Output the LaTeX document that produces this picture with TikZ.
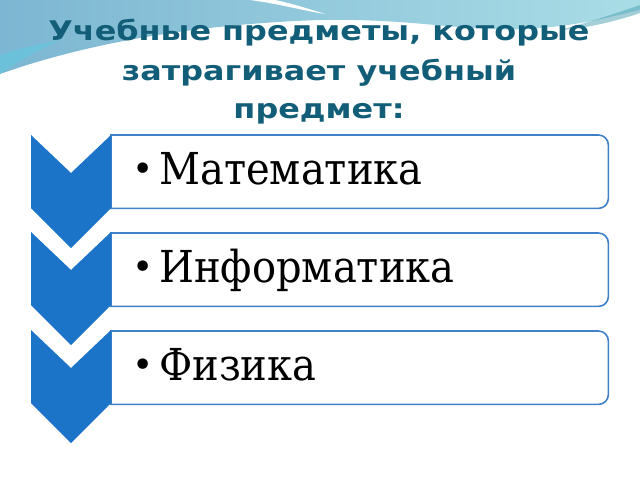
\documentclass[tikz,border=0pt]{standalone}
\usepackage{fontspec}
\newfontfamily\titlefont[FakeStretch=1.18]{DejaVu Sans}
\newfontfamily\itemfont[FakeStretch=0.91]{DejaVu Serif}
\newfontfamily\bulletfont{DejaVu Serif}
\definecolor{titlecol}{HTML}{125E78}
\definecolor{chevcol}{HTML}{1C74C9}
\definecolor{boxcol}{HTML}{3F80C8}
\definecolor{skyA}{HTML}{7DB6D2}
\definecolor{skyB}{HTML}{A9DDE6}
\definecolor{skyC}{HTML}{5FC9DF}
\begin{document}
\begin{tikzpicture}[x=1pt,y=-1pt,
  chev/.style={fill=chevcol,draw=none},
  boxline/.style={draw=boxcol,line width=1.6pt,fill=white},
  boxnode/.style={anchor=north west,minimum width=497,minimum height=73,inner sep=0pt},
  itemtext/.style={anchor=base west,inner sep=0pt,font=\itemfont\fontsize{44}{44}\selectfont},
  bullet/.style={anchor=base,inner sep=0pt,font=\bulletfont\fontsize{36}{36}\selectfont},
  titletext/.style={anchor=base,inner sep=0pt,text=titlecol,font=\titlefont\bfseries\fontsize{27}{27}\selectfont}]
% background
\fill[white] (0,0) rectangle (640,480);
\useasboundingbox (0,0) rectangle (640,480);
\shade[left color=skyA,right color=skyB] (0,0) -- (0,74) .. controls (90,42) and (200,24) .. (320,20)
  .. controls (420,18) and (470,34) .. (540,28) .. controls (590,24) and (620,14) .. (640,10) -- (640,0) -- cycle;
\fill[skyC,opacity=0.6] (0,55) .. controls (20,48) and (40,44) .. (60,40) .. controls (40,50) and (20,60) .. (0,74) -- cycle;
\fill[white] (250,0) .. controls (280,4) and (300,10) .. (325,14) .. controls (300,6) and (285,2) .. (275,0) -- cycle;
\fill[skyC!80!black,opacity=0.5] (560,30) .. controls (590,22) and (620,12) .. (640,5) -- (640,13) .. controls (620,20) and (590,28) .. (560,30) -- cycle;
% title
\node[titletext] (t1) at (319,40) {Учебные предметы, которые};
\node[titletext] (t2) at (319,80) {затрагивает учебный};
\node[titletext] (t3) at (319,118) {предмет:};
% boxes
\foreach \i/\t in {1/135,2/233,3/331}{
  \node[boxnode] (b\i) at (111,\t) {};
  \draw[boxline] (b\i.north west) -- ([xshift=-10]b\i.north east)
     arc[start angle=-90,end angle=0,radius=10] -- ([yshift=10]b\i.south east)
     arc[start angle=0,end angle=90,radius=10] -- (b\i.south west) -- cycle;
}
% chevrons
\foreach \i/\t in {1/135,2/232,3/330}{
  \fill[chev] (31,\t) coordinate (c\i) -- (71,\t+38) -- (111,\t) -- (111,\t+73) -- (71,\t+113) -- (31,\t+73) -- cycle;
}
% items
\node[bullet] (p1) at (143,181) {•};
\node[itemtext] (i1) at (159,184) {Математика};
\node[bullet] (p2) at (143,279) {•};
\node[itemtext] (i2) at (159,282) {Информатика};
\node[bullet] (p3) at (143,377) {•};
\node[itemtext] (i3) at (159,380) {Физика};
\end{tikzpicture}
\end{document}
